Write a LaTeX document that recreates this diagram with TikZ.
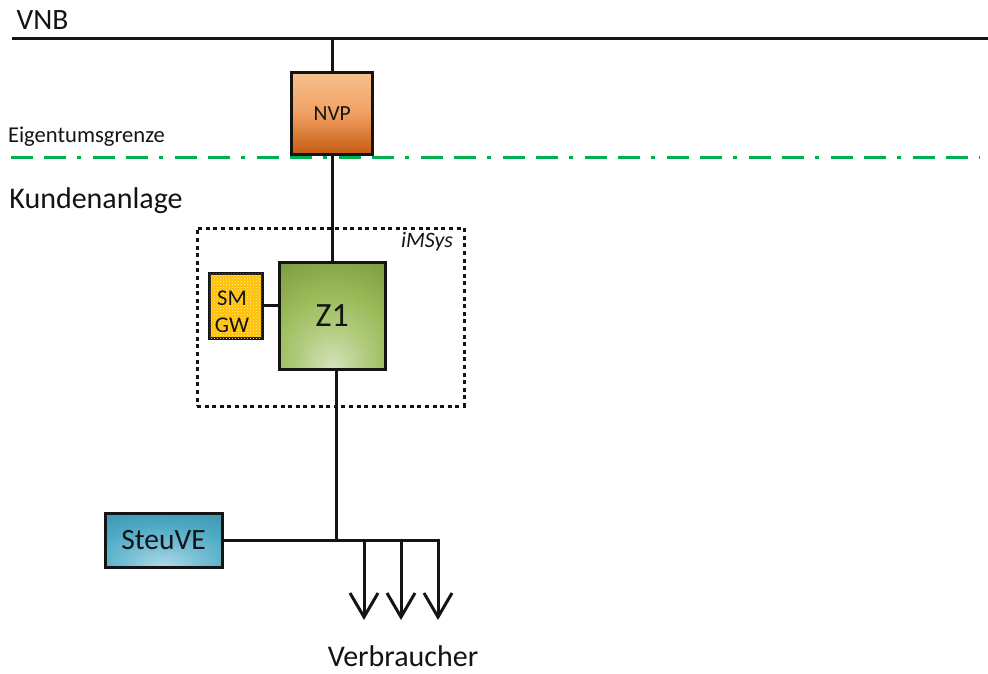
\documentclass[tikz,border=0pt]{standalone}
\usepackage{fontspec}
\setmainfont{Carlito}
\usetikzlibrary{arrows.meta,patterns}
\definecolor{edgeblack}{HTML}{141414}
\definecolor{gridgreen}{HTML}{00B050}
\definecolor{nvpa}{RGB}{197,90,17}
\definecolor{nvpb}{RGB}{240,160,98}
\definecolor{nvpc}{RGB}{247,192,142}
\definecolor{za}{RGB}{213,227,190}
\definecolor{zb}{RGB}{176,203,125}
\definecolor{zc}{RGB}{155,187,89}
\definecolor{zd}{RGB}{118,146,60}
\definecolor{sa}{RGB}{178,218,230}
\definecolor{sb}{RGB}{115,190,212}
\definecolor{sc}{RGB}{75,168,195}
\definecolor{sd}{RGB}{60,145,172}
\definecolor{gold}{RGB}{255,192,0}
\pgfdeclareverticalshading{nvpshade}{100bp}{color(0bp)=(nvpa);
  color(25bp)=(nvpa);
  color(50bp)=(nvpb);
  color(75bp)=(nvpc);
  color(100bp)=(nvpc)}
\pgfdeclareradialshading{zshade}{\pgfpoint{0bp}{-25bp}}{
  color(0bp)=(za);
  color(16bp)=(zb);
  color(28bp)=(zc);
  color(50bp)=(zd);
  color(100bp)=(zd)}
\pgfdeclareradialshading{steushade}{\pgfpoint{0bp}{-25bp}}{
  color(0bp)=(sa);
  color(17bp)=(sb);
  color(32bp)=(sc);
  color(50bp)=(sd);
  color(100bp)=(sd)}
\tikzset{
  wire/.style={draw=edgeblack,line width=3pt},
  box/.style={draw=edgeblack,line width=3pt,inner sep=0pt,align=center,text=edgeblack},
  loadwire/.style={wire,-{Straight Barb[length=24pt,width=28pt,line width=3pt]}},
  lbl/.style={anchor=base,inner sep=0pt,text=edgeblack},
}
\begin{document}
\begin{tikzpicture}[x=1pt,y=-1pt]
\useasboundingbox (0,0) rectangle (988,673);
\fill[white] (0,0) rectangle (988,673);
% free ends
\coordinate (busL) at (12,38);
\coordinate (busR) at (988,38);
\coordinate (greenL) at (11,157.5);
\coordinate (greenR) at (980,157.5);
\coordinate (junction) at (336.5,540);
\coordinate (load1) at (364,540);
\coordinate (load2) at (401,540);
\coordinate (load3) at (438,540);
\coordinate (load1e) at (364,620);
\coordinate (load2e) at (401,620);
\coordinate (load3e) at (438,620);
% boxes
\node[box,shading=nvpshade,minimum width=81pt,minimum height=82pt,font=\fontsize{21.5}{24}\selectfont] (nvp) at (332.25,113.25) {NVP};
\node[box,shading=zshade,minimum width=106pt,minimum height=107pt,font=\fontsize{34}{36}\selectfont] (z1) at (332.25,315.5) {Z1};
\node[box,fill=gold,minimum width=53pt,minimum height=65pt] (smgw) at (235.5,305.5) {};
\fill[pattern=crosshatch dots,pattern color=white!70!gold] ([shift={(-1.5,1.5)}]smgw.north east) rectangle ([shift={(1.5,-1.5)}]smgw.south west);
\node[inner sep=0pt,align=center,text=edgeblack,font=\fontsize{22.5}{27}\selectfont] (smgwtext) at (232,311.5) {SM\\GW};
\node[box,shading=steushade,minimum width=117pt,minimum height=54pt,font=\fontsize{29.5}{30}\selectfont] (steu) at (163.5,540) {SteuVE};
\node[draw=edgeblack,line width=3pt,dash pattern=on 4pt off 3.6pt,inner sep=0pt,minimum width=267pt,minimum height=178pt] (imsys) at (330.5,317) {};
% connectors
\draw[wire] (busL) -- (busR);
\draw[wire] (nvp.north) -- (nvp.north |- busL);
\draw[wire] (nvp.south) -- (z1.north);
\draw[wire] (smgw.east) -- (z1.west |- smgw.east);
\draw[wire] (z1.south -| junction) -- (junction);
\draw[wire,line cap=rect] (steu.east) -- (load3);
\draw[loadwire] (load1) -- (load1e);
\draw[loadwire] (load2) -- (load2e);
\draw[loadwire] (load3) -- (load3e);
\draw[draw=gridgreen,line width=3pt,dash pattern=on 22pt off 11pt on 22pt off 11pt on 4pt off 12pt] (greenL) -- (greenR);
% labels
\node[lbl,font=\fontsize{29.5}{32}\selectfont] (vnb) at (42.5,29.5) {VNB};
\node[lbl,font=\fontsize{22.6}{26}\selectfont] (eigen) at (86.5,142.5) {Eigentumsgrenze};
\node[lbl,font=\fontsize{30}{33}\selectfont] (kunden) at (96,208) {Kundenanlage};
\node[lbl,font=\fontsize{22}{24}\itshape\selectfont] (imsyslabel) at (427,247) {iMSys};
\node[lbl,font=\fontsize{30}{33}\selectfont] (verb) at (403,666.5) {Verbraucher};
\end{tikzpicture}
\end{document}
